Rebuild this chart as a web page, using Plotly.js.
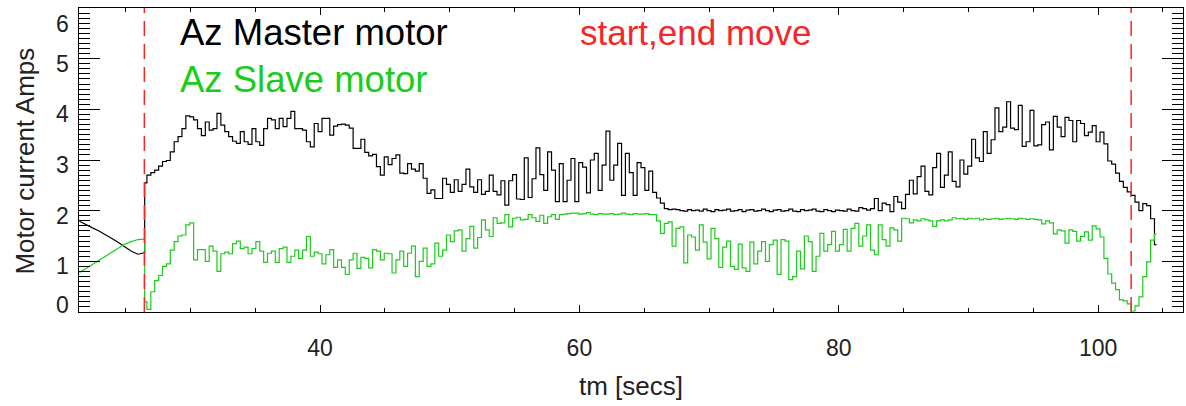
<!DOCTYPE html>
<html>
<head>
<meta charset="utf-8">
<script src="https://cdn.plot.ly/plotly-3.0.1.min.js"></script>
<style>html,body{margin:0;padding:0;background:#fff;}#chart{width:1186px;height:406px;}</style>
</head>
<body>
<div id="chart"></div>
<script>
// ---- data ----
// smooth part before the move starts
const tPre = [21.45, 21.95, 22.45, 22.95, 23.45, 23.95, 24.45, 24.95, 25.45, 25.95, 26.45];
const masterPre = [1.79, 1.72, 1.66, 1.60, 1.53, 1.45, 1.37, 1.28, 1.20, 1.14, 1.17];
const slavePre  = [0.78, 0.86, 0.94, 1.02, 1.10, 1.18, 1.26, 1.34, 1.39, 1.43, 1.44];

// sampled part during the move (regular sampling)
const t0Move = 26.5;
const dtMove = 0.3;
const masterMove = [
  2.55, 2.70, 2.75, 2.80, 2.88, 2.97, 2.99, 3.16, 3.36, 3.46,
  3.62, 3.87, 3.85, 3.79, 3.62, 3.48, 3.75, 3.59, 3.62, 3.92,
  3.69, 3.56, 3.46, 3.37, 3.33, 3.56, 3.36, 3.31, 3.62, 3.36,
  3.29, 3.62, 3.82, 3.79, 3.62, 3.82, 3.66, 3.82, 3.96, 3.62,
  3.62, 3.59, 3.36, 3.26, 3.72, 3.56, 3.82,
  3.82, 3.49, 3.67, 3.70, 3.71, 3.69, 3.63, 3.23, 3.23, 3.41,
  3.15, 3.08, 3.11, 2.87, 2.70, 3.06, 2.91, 3.03, 3.10, 2.74,
  2.73, 2.93, 2.82, 2.78, 2.93, 2.64, 2.34, 2.41, 2.24, 2.24,
  2.64, 2.52, 2.36, 2.61, 2.38, 2.52, 2.82, 2.47, 2.36, 2.61,
  2.32, 2.38, 2.70, 2.38, 2.31, 2.59, 2.11,
  2.59, 2.71, 2.23, 2.22, 3.04, 2.26, 2.63, 3.24, 2.71, 2.40,
  3.16, 2.80, 2.18, 2.93, 2.18, 2.60, 3.03, 2.18, 2.95, 2.86,
  2.35, 3.00, 3.13, 2.40, 2.90, 3.57, 2.60, 2.90, 3.33, 2.30,
  3.13, 2.75, 2.30, 2.95, 2.85, 2.40, 2.78, 2.36, 2.25, 2.15,
  2.04, 2.02, 2.03, 2.02, 2.00, 1.99,
  2.02, 2.00, 2.01, 1.99, 2.03, 2.00, 1.98, 2.02, 2.00, 2.01,
  2.03, 1.99, 2.00, 2.02, 1.98, 2.01, 2.02, 1.99, 2.00, 2.03,
  2.00, 1.98, 2.01, 2.02, 1.99, 2.00, 2.03, 1.99, 1.98, 2.02,
  2.00, 2.01, 2.03, 1.99, 1.98, 2.02, 2.00, 1.98, 2.01, 2.00,
  1.99, 2.03, 2.00, 1.99, 2.06, 2.04, 2.01,
  2.04, 2.24, 2.00, 2.15, 2.12, 1.98, 2.28, 2.17, 2.04, 2.32,
  2.60, 2.33, 2.67, 2.88, 2.38, 2.31, 2.85, 3.13, 2.46, 2.70,
  3.16, 2.58, 2.47, 3.00, 2.72, 2.88, 3.41, 3.04, 2.97, 3.56,
  3.13, 3.40, 4.03, 3.56, 3.65, 4.15, 3.63, 3.60, 4.08, 3.27,
  3.36, 3.98, 3.28, 3.30, 3.70, 3.75, 3.20,
  3.86, 3.65, 3.46, 3.84, 3.78, 3.36, 3.78, 3.72, 3.48, 3.55,
  3.68, 3.36, 3.55, 3.32, 2.98, 2.92, 2.74, 2.58, 2.46, 2.37,
  2.30, 2.17, 2.00, 2.14, 2.10, 1.84, 1.33
];
const slaveMove = [
  0.20, 0.05, 0.40, 0.62, 0.72, 0.90, 0.95, 1.22, 1.39, 1.50,
  1.52, 1.72, 1.76, 1.03, 1.23, 1.23, 1.00, 1.30, 1.20, 0.80,
  1.15, 1.18, 1.15, 1.35, 1.40, 1.25, 1.28, 1.15, 1.25, 1.39,
  1.20, 0.98, 1.16, 1.20, 0.98, 1.25, 1.28, 0.98, 1.10, 1.22,
  1.06, 1.22, 1.49, 1.10, 1.18, 1.15, 0.95,
  1.13, 1.23, 0.88, 1.03, 0.88, 0.74, 1.03, 1.16, 0.86, 1.08,
  1.06, 0.87, 1.23, 1.20, 1.03, 1.16, 1.15, 0.77, 1.03, 1.20,
  0.90, 1.16, 1.30, 0.70, 1.00, 1.26, 0.90, 0.95, 1.36, 1.10,
  1.22, 1.52, 1.39, 1.60, 1.62, 1.20, 1.45, 1.69, 1.26, 1.47,
  1.82, 1.62, 1.49, 1.86, 1.75, 1.76, 1.92,
  1.68, 1.85, 1.87, 1.82, 1.83, 1.92, 1.86, 1.79, 1.91, 1.75,
  1.88, 1.92, 1.83, 1.92, 1.93, 1.94, 1.95, 1.95, 1.93, 1.94,
  1.96, 1.93, 1.92, 1.94, 1.93, 1.93, 1.94, 1.92, 1.93, 1.95,
  1.93, 1.92, 1.94, 1.93, 1.93, 1.94, 1.92, 1.92, 1.80, 1.55,
  1.75, 1.78, 1.30, 1.65, 1.68, 0.97,
  1.52, 1.48, 1.22, 1.72, 1.38, 1.05, 1.65, 1.45, 0.88, 1.28,
  1.40, 0.90, 0.84, 1.34, 0.87, 0.80, 1.38, 0.95, 1.20, 1.39,
  1.00, 1.33, 1.42, 0.74, 1.43, 1.40, 0.64, 0.70, 1.20, 0.85,
  1.50, 1.39, 0.80, 1.10, 1.55, 1.20, 1.33, 1.59, 1.20, 1.33,
  1.63, 1.20, 1.65, 1.75, 1.30, 1.50, 1.72,
  1.22, 1.13, 1.72, 1.43, 1.30, 1.66, 1.62, 1.40, 1.85, 1.84,
  1.76, 1.82, 1.80, 1.84, 1.82, 1.80, 1.69, 1.80, 1.82, 1.80,
  1.82, 1.86, 1.84, 1.85, 1.83, 1.85, 1.84, 1.85, 1.82, 1.84,
  1.83, 1.84, 1.85, 1.83, 1.84, 1.85, 1.84, 1.83, 1.85, 1.84,
  1.83, 1.84, 1.83, 1.82, 1.74, 1.80, 1.76,
  1.54, 1.62, 1.60, 1.36, 1.62, 1.59, 1.40, 1.49, 1.58, 1.42,
  1.70, 1.64, 1.48, 1.06, 0.75, 0.57, 0.44, 0.24, 0.22, 0.16,
  0.02, 0.12, 0.30, 0.70, 0.99, 1.42, 1.54
];

// start / end of the move (dashed markers)
const moveTimes = [26.45, 102.55];

const xTickVals = [40, 60, 80, 100];
const yTickVals = [0, 1, 2, 3, 4, 5, 6];
const yTickLabels = ['0', '1', '2', '3', '4', '5', '6'];
const legendLabels = ['Az Master motor', 'Az Slave motor', 'start,end move'];
const xTitle = 'tm [secs]';
const yTitle = 'Motor current Amps';

// ---- styling (positions / sizes) ----
const yLabelShift = [7, -5, -5, -5, -5, -5, -16];   // label offsets like the original renderer

// ---- build ----
const tMove = masterMove.map((_, i) => +(t0Move + i * dtMove).toFixed(3));
const lastPre = tPre.length - 1;

const BLACK = '#000000';
const GREEN = '#1ccc1c';
const RED = '#f42828';
const TXT = '#222222';
const FONT = 'Liberation Sans, Arial, Helvetica, sans-serif';
const TICK_SIZE = 23;

const traces = [
  {x: tPre, y: masterPre, mode: 'lines', line: {color: BLACK, width: 1.2, shape: 'linear'}},
  {x: tPre, y: slavePre, mode: 'lines', line: {color: GREEN, width: 1.2, shape: 'linear'}},
  {x: [tPre[lastPre]].concat(tMove), y: [masterPre[lastPre]].concat(masterMove), mode: 'lines',
   line: {color: BLACK, width: 1.2, shape: 'hvh'}},
  {x: [tPre[lastPre]].concat(tMove), y: [slavePre[lastPre]].concat(slaveMove), mode: 'lines',
   line: {color: GREEN, width: 1.2, shape: 'hvh'}}
];

const shapes = moveTimes.map(t => ({
  type: 'line', xref: 'x', yref: 'paper', x0: t, x1: t, y0: 0, y1: 1,
  line: {color: RED, width: 1.5, dash: '15px,8px'}
}));

const legendStyle = [
  {color: BLACK, x: 0.0897, y: 0.918, size: 36.5},
  {color: GREEN, x: 0.0897, y: 0.766, size: 36.5},
  {color: RED, x: 0.452, y: 0.918, size: 35}
];
const annotations = legendLabels.map((txt, i) => ({
  text: txt, xref: 'paper', yref: 'paper', x: legendStyle[i].x, y: legendStyle[i].y,
  xanchor: 'left', yanchor: 'middle', showarrow: false,
  font: {family: FONT, size: legendStyle[i].size, color: legendStyle[i].color}
}));

// y tick labels
yTickVals.forEach((v, i) => {
  annotations.push({
    text: yTickLabels[i], xref: 'paper', yref: 'y', x: 0, y: v,
    xanchor: 'right', yanchor: 'middle', xshift: -8, yshift: yLabelShift[i],
    showarrow: false, font: {family: FONT, size: TICK_SIZE, color: TXT}
  });
});
// y axis title
annotations.push({
  text: yTitle, xref: 'paper', yref: 'paper', x: -0.0498, y: 0.495,
  xanchor: 'center', yanchor: 'middle', textangle: -90, showarrow: false,
  font: {family: FONT, size: 26, color: TXT}
});

const tickFont = {family: FONT, size: TICK_SIZE, color: TXT};

const layout = {
  width: 1186, height: 406,
  margin: {l: 79, r: 3, t: 8, b: 94},
  paper_bgcolor: '#fff', plot_bgcolor: '#fff',
  showlegend: false,
  hovermode: false,
  xaxis: {
    range: [21.41, 106.55], tickvals: xTickVals, ticktext: xTickVals.map(String),
    ticks: 'inside', ticklen: 7, tickwidth: 1, tickcolor: '#000',
    minor: {dtick: 5, tick0: 0, ticks: 'inside', ticklen: 4, tickcolor: '#000', tickwidth: 1},
    showline: true, linecolor: '#000', linewidth: 1.3, mirror: 'allticks',
    showgrid: false, zeroline: false, tickfont: tickFont, ticklabelstandoff: 15,
    title: {text: xTitle, font: {family: FONT, size: 26, color: TXT}, standoff: 17}
  },
  yaxis: {
    range: [0, 6], tickvals: yTickVals, showticklabels: false,
    ticks: 'inside', ticklen: 21, tickwidth: 1, tickcolor: '#000',
    minor: {dtick: 0.1, tick0: 0, ticks: 'inside', ticklen: 11, tickcolor: '#000', tickwidth: 1},
    showline: true, linecolor: '#000', linewidth: 1.3, mirror: 'allticks',
    showgrid: false, zeroline: false
  },
  shapes: shapes,
  annotations: annotations
};

Plotly.newPlot('chart', traces, layout, {displayModeBar: false, staticPlot: true});
</script>
</body>
</html>
